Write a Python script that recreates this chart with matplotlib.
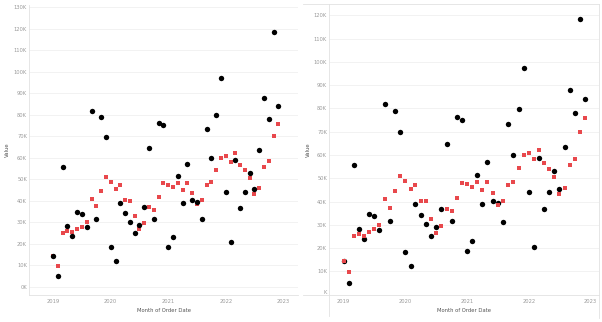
import matplotlib
matplotlib.use('Agg')
import matplotlib.pyplot as plt
import matplotlib.dates as mdates
import pandas as pd
from matplotlib.lines import Line2D
from matplotlib.ticker import FuncFormatter

# ---- data ----
months = pd.date_range('2019-01-01', periods=48, freq='MS')
black_values = [14300, 4900, 55700, 28400, 23700, 34700, 34000, 27900, 82000, 31600, 78800, 69800,
                18300, 12100, 38900, 34400, 30300, 25000, 28900, 37000, 64700, 31600, 76200, 75200,
                18700, 23100, 51600, 38900, 57000, 40400, 39400, 31300, 73500, 59800, 79700, 97200,
                44000, 20600, 58900, 36700, 44300, 53000, 45300, 63400, 88000, 77900, 118600, 84000]
red_values = [14400, 9600, 25000, 25900, 25400, 27000, 28000, 29900, 40900, 37400, 44600, 51100,
              48700, 45600, 47300, 40400, 40100, 32700, 26700, 29600, 37000, 35900, 41700, 48100,
              47400, 46400, 48400, 44900, 48400, 43600, 38600, 40300, 47300, 48600, 54300, 60100,
              60700, 58100, 62000, 56600, 54100, 50700, 43300, 46000, 55600, 58400, 70000, 75800]
year_labels = ['2019', '2020', '2021', '2022', '2023']
left_yticks = list(range(0, 130001, 10000))
right_yticks = list(range(0, 120001, 10000))

W, H = 602, 322
fig = plt.figure(figsize=(W / 100, H / 100), dpi=100)
fig.patch.set_facecolor('white')

BLACK = '#000000'
RED = '#E8484C'
GRID = '#F0F0F0'
AXL = '#E2E2E2'
TICKC = '#9A9A9A'
TITLEC = '#555555'
FS_TICK = 3.7
FS_TITLE = 3.8
S_CIRC = 15
S_SQ = 12


def fx(px):
    return px / W


def fy(py):
    return 1 - py / H


year_dates = [pd.Timestamp(f'{y}-01-01') for y in year_labels]
base = mdates.date2num(pd.Timestamp('2019-01-01'))
kfmt = FuncFormatter(lambda v, p: f'{int(round(v / 1000))}K')


def style(ax, yticks, xlo, xhi, ylo, yhi):
    ax.set_xlim(base + xlo, base + xhi)
    ax.set_ylim(ylo, yhi)
    ax.set_yticks(yticks)
    ax.yaxis.set_major_formatter(kfmt)
    ax.set_xticks([mdates.date2num(d) for d in year_dates])
    ax.set_xticklabels(year_labels)
    ax.tick_params(axis='both', length=0, labelsize=FS_TICK, colors=TICKC)
    ax.tick_params(axis='x', pad=3.2)
    ax.tick_params(axis='y', pad=1.6)
    ax.grid(axis='y', color=GRID, linewidth=0.6)
    ax.grid(axis='x', visible=False)
    ax.set_axisbelow(True)
    for s in ax.spines.values():
        s.set_visible(False)


# ---- left panel ----
axL = fig.add_axes([fx(29.3), fy(295), fx(298 - 29.3), (295 - 5) / H])
style(axL, left_yticks, -152, 1554, -3860, 131100)
axL.spines['left'].set_visible(True)
axL.spines['bottom'].set_visible(True)
axL.spines['left'].set_color(AXL)
axL.spines['bottom'].set_color(AXL)
axL.spines['left'].set_linewidth(0.6)
axL.spines['bottom'].set_linewidth(0.6)
axL.scatter(months, red_values, marker='s', s=S_SQ, color=RED, linewidths=0, zorder=3)
axL.scatter(months, black_values, marker='o', s=S_CIRC, color=BLACK, linewidths=0, zorder=4)

fig.text(fx(163.6), fy(311), 'Month of Order Date', ha='center', va='center',
         fontsize=FS_TITLE, color=TITLEC)
fig.text(fx(7.5), fy(150), 'Value', ha='center', va='center', rotation=90,
         fontsize=FS_TITLE, color=TITLEC)

# ---- right panel ----
axR = fig.add_axes([fx(329.3), fy(295), fx(599.3 - 329.3), (295 - 4) / H])
style(axR, right_yticks, -85, 1513, -150, 124900)
axR.yaxis.set_major_formatter(FuncFormatter(
    lambda v, p: 'K' if round(v) == 0 else f'{int(round(v / 1000))}K'))
for lbl in axR.get_yticklabels():
    if lbl.get_text() == 'K':
        lbl.set_verticalalignment('bottom')
axR.scatter(months, black_values, marker='o', s=S_CIRC, color=BLACK, linewidths=0, zorder=3)
axR.scatter(months, red_values, marker='s', s=S_SQ, color=RED, linewidths=0, zorder=4)

fig.text(fx(464), fy(311), 'Month of Order Date', ha='center', va='center',
         fontsize=FS_TITLE, color=TITLEC)
fig.text(fx(308), fy(150), 'Value', ha='center', va='center', rotation=90,
         fontsize=FS_TITLE, color=TITLEC)

# frame lines of the right panel
for (x0, y0, x1, y1) in [(302.7, 4, 599.3, 4), (599.3, 4, 599.3, 318),
                         (329.3, 4, 329.3, 316), (302.7, 295, 599.3, 295)]:
    fig.add_artist(Line2D([fx(x0), fx(x1)], [fy(y0), fy(y1)], transform=fig.transFigure,
                          color=AXL, linewidth=0.6))

fig.savefig('out.png', dpi=100, facecolor='white')
